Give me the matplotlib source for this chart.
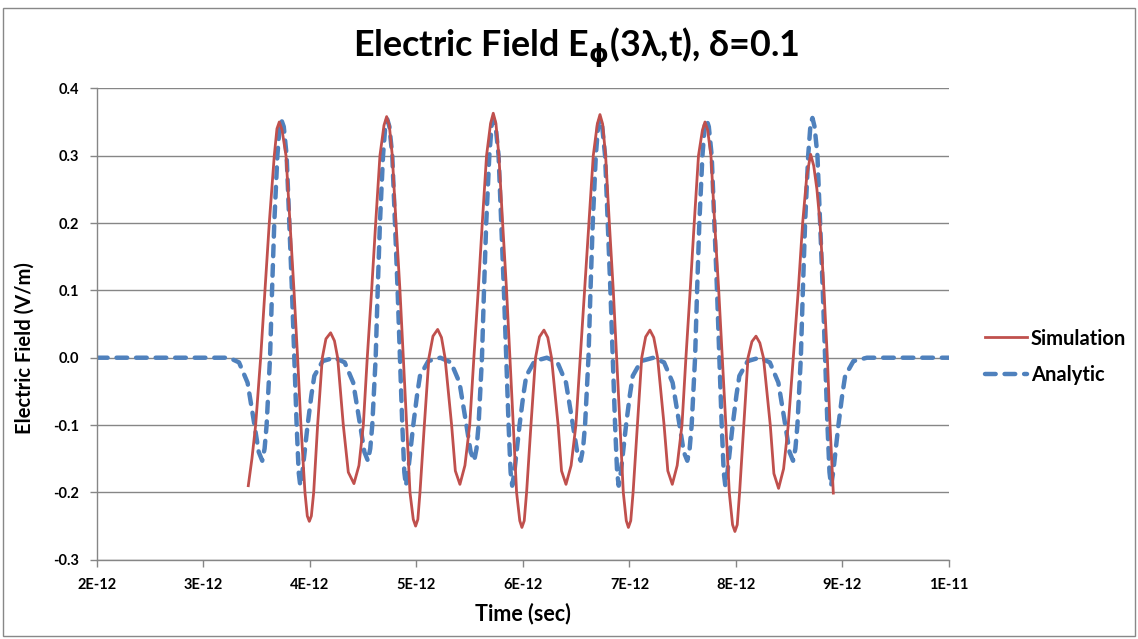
import matplotlib.pyplot as plt
from matplotlib.patches import Rectangle

# 时间单位: 1E-12 s
sim_t = [3.421, 3.455, 3.490, 3.537, 3.577, 3.618, 3.665, 3.690, 3.712, 3.738, 3.775, 3.812, 3.850, 3.884,
         3.915, 3.953, 3.975, 3.994, 4.013, 4.035, 4.072, 4.116, 4.150, 4.194, 4.230, 4.260, 4.313, 4.360,
         4.413, 4.460, 4.501,
         4.538, 4.579, 4.617, 4.657, 4.695, 4.720, 4.745, 4.773, 4.808, 4.845, 4.877, 4.908, 4.939, 4.970,
         4.992, 5.013, 5.033, 5.074, 5.117, 5.155, 5.199, 5.235, 5.268, 5.330, 5.365, 5.408, 5.455, 5.500,
         5.539, 5.580, 5.618, 5.658, 5.696, 5.721, 5.746, 5.774, 5.809, 5.846, 5.878, 5.909, 5.940, 5.970,
         5.990, 6.012, 6.034, 6.075, 6.118, 6.155, 6.197, 6.233, 6.268, 6.330, 6.362, 6.404, 6.452, 6.497,
         6.538, 6.580, 6.619, 6.660, 6.698, 6.723, 6.748, 6.776, 6.811, 6.848, 6.880, 6.911, 6.942, 6.970,
         6.990, 7.012, 7.034, 7.074, 7.115, 7.152, 7.192, 7.228, 7.264, 7.325, 7.360, 7.402, 7.448, 7.493,
         7.530, 7.570, 7.608, 7.648, 7.685, 7.709, 7.734, 7.765, 7.800, 7.838, 7.872, 7.905, 7.937, 7.968,
         7.990, 8.012, 8.034, 8.073, 8.113, 8.150, 8.188, 8.224, 8.258, 8.322, 8.356, 8.400, 8.447, 8.491,
         8.538, 8.585, 8.626, 8.665, 8.701, 8.730, 8.760, 8.789, 8.826, 8.858, 8.883, 8.914]
sim_e = [-0.190, -0.150, -0.100, 0.000, 0.100, 0.200, 0.300, 0.340, 0.350, 0.338, 0.300, 0.200, 0.100, 0.000,
         -0.100, -0.200, -0.235, -0.243, -0.235, -0.200, -0.100, 0.000, 0.028, 0.037, 0.025, 0.000, -0.100, -0.170,
         -0.187, -0.160, -0.100,
         0.000, 0.100, 0.200, 0.300, 0.345, 0.358, 0.345, 0.300, 0.200, 0.100, 0.000, -0.100, -0.200, -0.240,
         -0.250, -0.240, -0.200, -0.100, 0.000, 0.032, 0.042, 0.030, 0.000, -0.100, -0.168, -0.188, -0.160, -0.100,
         0.000, 0.100, 0.200, 0.300, 0.348, 0.363, 0.348, 0.300, 0.200, 0.100, 0.000, -0.100, -0.200, -0.242,
         -0.252, -0.242, -0.200, -0.100, 0.000, 0.031, 0.041, 0.030, 0.000, -0.100, -0.168, -0.188, -0.160, -0.100,
         0.000, 0.100, 0.200, 0.300, 0.347, 0.361, 0.347, 0.300, 0.200, 0.100, 0.000, -0.100, -0.200, -0.242,
         -0.252, -0.242, -0.200, -0.100, 0.000, 0.031, 0.041, 0.030, 0.000, -0.100, -0.168, -0.188, -0.160, -0.100,
         0.000, 0.100, 0.200, 0.300, 0.338, 0.350, 0.338, 0.300, 0.200, 0.100, 0.000, -0.100, -0.200, -0.248,
         -0.258, -0.248, -0.200, -0.100, 0.000, 0.024, 0.032, 0.022, 0.000, -0.100, -0.172, -0.194, -0.165, -0.100,
         0.000, 0.100, 0.200, 0.270, 0.302, 0.285, 0.250, 0.200, 0.100, 0.000, -0.100, -0.201]

ana_t = [2.000, 3.240, 3.334, 3.414, 3.479, 3.519, 3.552, 3.574, 3.593, 3.625, 3.644, 3.665, 3.694, 3.716,
         3.734, 3.754, 3.781, 3.806, 3.831, 3.853, 3.875, 3.894, 3.909, 3.929, 3.978, 4.014, 4.041, 4.119, 4.230,
         4.326, 4.406, 4.471, 4.511, 4.544, 4.566, 4.585, 4.617, 4.636, 4.657, 4.686, 4.708,
         4.726, 4.746, 4.773, 4.798, 4.823, 4.845, 4.867, 4.886, 4.901, 4.921, 4.970, 5.006, 5.033, 5.111, 5.224,
         5.324, 5.404, 5.469, 5.509, 5.542, 5.564, 5.583, 5.615, 5.634, 5.655, 5.684, 5.706,
         5.724, 5.744, 5.771, 5.796, 5.821, 5.843, 5.865, 5.884, 5.899, 5.919, 5.968, 6.004, 6.031, 6.109, 6.224,
         6.324, 6.404, 6.469, 6.509, 6.542, 6.564, 6.583, 6.615, 6.634, 6.655, 6.684, 6.706,
         6.724, 6.744, 6.771, 6.796, 6.821, 6.843, 6.865, 6.884, 6.899, 6.919, 6.968, 7.004, 7.031, 7.109, 7.225,
         7.325, 7.405, 7.470, 7.510, 7.543, 7.565, 7.584, 7.616, 7.635, 7.656, 7.685, 7.707,
         7.725, 7.745, 7.772, 7.797, 7.822, 7.844, 7.866, 7.885, 7.900, 7.920, 7.969, 8.005, 8.032, 8.110, 8.220,
         8.318, 8.398, 8.463, 8.503, 8.536, 8.558, 8.577, 8.609, 8.628, 8.649, 8.678, 8.700,
         8.718, 8.738, 8.765, 8.790, 8.815, 8.837, 8.859, 8.878, 8.893, 8.913, 8.962, 8.998, 9.025, 9.103, 9.230,
         10.000]
ana_e = [0.000, 0.000, -0.007, -0.037, -0.100, -0.140, -0.153, -0.135, -0.100, 0.000, 0.100, 0.200, 0.300, 0.345,
         0.352, 0.343, 0.300, 0.200, 0.100, 0.000, -0.100, -0.170, -0.190, -0.170, -0.100, -0.055, -0.027, -0.005, 0.000,
         -0.007, -0.037, -0.100, -0.140, -0.153, -0.135, -0.100, 0.000, 0.100, 0.200, 0.300, 0.345,
         0.354, 0.343, 0.300, 0.200, 0.100, 0.000, -0.100, -0.170, -0.190, -0.170, -0.100, -0.055, -0.027, -0.005, 0.000,
         -0.007, -0.037, -0.100, -0.140, -0.153, -0.135, -0.100, 0.000, 0.100, 0.200, 0.300, 0.345,
         0.354, 0.343, 0.300, 0.200, 0.100, 0.000, -0.100, -0.170, -0.190, -0.170, -0.100, -0.055, -0.027, -0.005, 0.000,
         -0.007, -0.037, -0.100, -0.140, -0.153, -0.135, -0.100, 0.000, 0.100, 0.200, 0.300, 0.345,
         0.354, 0.343, 0.300, 0.200, 0.100, 0.000, -0.100, -0.170, -0.190, -0.170, -0.100, -0.055, -0.027, -0.005, 0.000,
         -0.007, -0.037, -0.100, -0.140, -0.153, -0.135, -0.100, 0.000, 0.100, 0.200, 0.300, 0.345,
         0.353, 0.343, 0.300, 0.200, 0.100, 0.000, -0.100, -0.170, -0.190, -0.170, -0.100, -0.055, -0.027, -0.005, 0.000,
         -0.007, -0.037, -0.100, -0.140, -0.153, -0.135, -0.100, 0.000, 0.100, 0.200, 0.300, 0.347,
         0.356, 0.343, 0.300, 0.200, 0.100, 0.000, -0.100, -0.170, -0.190, -0.170, -0.100, -0.055, -0.027, -0.005, 0.000,
         0.000]

x_ticks = [2e-12, 3e-12, 4e-12, 5e-12, 6e-12, 7e-12, 8e-12, 9e-12, 1e-11]
x_labels = ['2E-12', '3E-12', '4E-12', '5E-12', '6E-12', '7E-12', '8E-12', '9E-12', '1E-11']
y_ticks = [-0.3, -0.2, -0.1, 0.0, 0.1, 0.2, 0.3, 0.4]
y_labels = ['-0.3', '-0.2', '-0.1', '0.0', '0.1', '0.2', '0.3', '0.4']

plt.rcParams['font.family'] = ['Lato', 'DejaVu Sans']
plt.rcParams['mathtext.fontset'] = 'dejavusans'

fig = plt.figure(figsize=(11.38, 6.39), dpi=100)
ax = fig.add_axes([0.0852, 0.124, 0.7487, 0.7378])

red = '#C0504D'
blue = '#4F81BD'
grid_c = '#868686'

ax.plot([t * 1e-12 for t in sim_t], sim_e, color=red, lw=2.0, label='Simulation', zorder=3)
ax.plot([t * 1e-12 for t in ana_t], ana_e, color=blue, lw=3.2, dashes=(2.4, 2.0),
        dash_capstyle='round', label='Analytic', zorder=2)

ax.set_xlim(2e-12, 1e-11)
ax.set_ylim(-0.3, 0.4)
ax.set_xticks(x_ticks)
ax.set_xticklabels(x_labels, fontsize=10.5, fontweight='bold')
ax.set_yticks(y_ticks)
ax.set_yticklabels(y_labels, fontsize=10.5, fontweight='bold')
ax.yaxis.grid(True, color=grid_c, lw=1.0)
ax.set_axisbelow(True)
for s in ['top', 'right']:
    ax.spines[s].set_visible(False)
for s in ['left', 'bottom']:
    ax.spines[s].set_color(grid_c)
    ax.spines[s].set_linewidth(1.0)
ax.tick_params(axis='both', color=grid_c, length=5, width=1, direction='out')
ax.tick_params(axis='x', pad=8)
ax.tick_params(axis='y', pad=8)

ax.set_xlabel('Time (sec)', fontsize=15.5, fontweight='bold')
ax.xaxis.set_label_coords(0.5, -0.09)
ax.set_ylabel('Electric Field (V/m)', fontsize=14.5, fontweight='bold')
ax.yaxis.set_label_coords(-0.073, 0.45)

fig.text(0.506, 0.925, r'Electric Field E$_{\mathbf{\phi}}$(3λ,t), δ=0.1', ha='center', va='center',
         fontsize=25.8, fontweight='bold')

ax.legend(loc='center left', bbox_to_anchor=(1.042, 0.431), frameon=False,
          prop={'size': 14.5, 'weight': 'bold'}, borderpad=0, borderaxespad=0,
          handlelength=2.1, handletextpad=0.2, labelspacing=0.8)

fig.patches.append(Rectangle((0.003, 0.004), 0.994, 0.984, transform=fig.transFigure,
                             fill=False, edgecolor='#888888', lw=1.0))

fig.savefig('out.png', dpi=100)
